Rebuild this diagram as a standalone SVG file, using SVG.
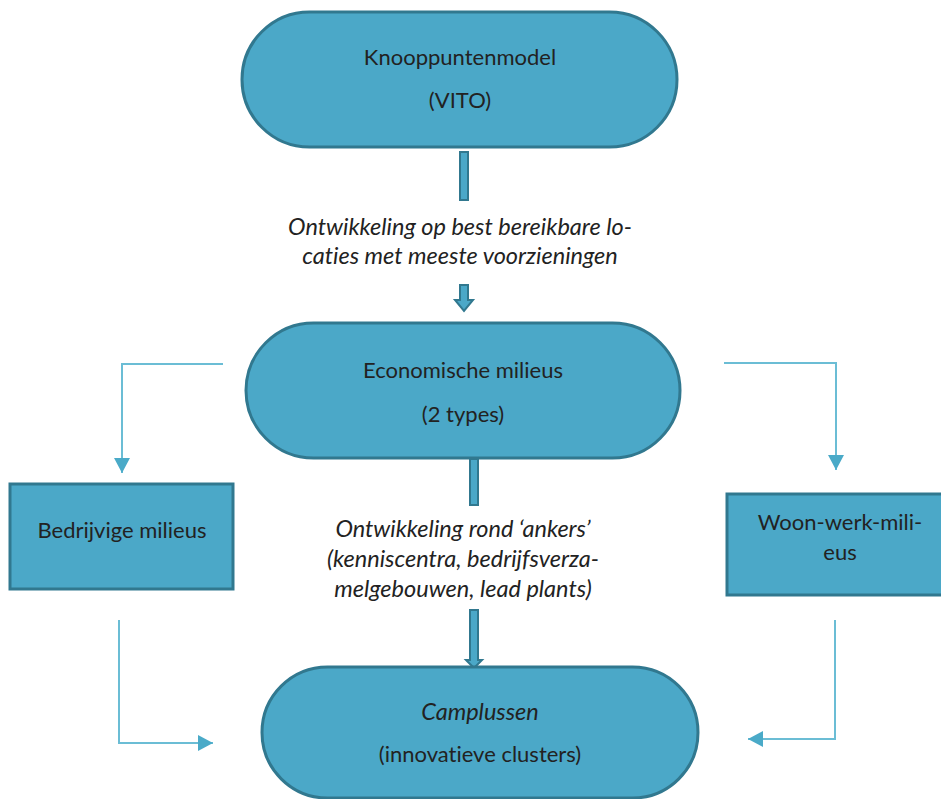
<svg xmlns="http://www.w3.org/2000/svg" width="941" height="799" viewBox="0 0 941 799">
  <defs>
    <style>
      .node { fill: #4ba8c8; stroke: #31788f; stroke-width: 3; }
      .label { font-family: Lato, "Liberation Sans", sans-serif; font-size: 22px; fill: #222222; text-anchor: middle; font-variant-ligatures: none; font-feature-settings: "liga" 0, "dlig" 0; }
      .it { font-style: italic; font-size: 23.5px; }
      .thin { fill: none; stroke: #6bbdd5; stroke-width: 2; }
      .block { fill: #4ba8c8; stroke: #31788f; stroke-width: 2; stroke-linejoin: miter; }
    </style>
    <marker id="tri" markerWidth="15" markerHeight="16" refX="15" refY="8" orient="auto" markerUnits="userSpaceOnUse">
      <path d="M0,0 L15,8 L0,16 Z" fill="#4aaac8"/>
    </marker>
  </defs>

  <!-- connectors -->
  <g id="connectors">
    <path class="block" d="M460,152 H468 V200 H460 Z"/>
    <path class="block" d="M460,285 H468 V300 H473 L464,311 L455,300 H460 Z"/>
    <path class="block" d="M470,459 H478 V505 H470 Z"/>
    <path class="block" d="M470,610 H478 V660 H482 L474,668 L466,660 H470 Z"/>
    <path class="thin" d="M223,364 H122 V473" marker-end="url(#tri)"/>
    <path class="thin" d="M724,363 H836 V470" marker-end="url(#tri)"/>
    <path class="thin" d="M119,620 V743 H213" marker-end="url(#tri)"/>
    <path class="thin" d="M835,620 V739 H748" marker-end="url(#tri)"/>
  </g>

  <!-- connector labels -->
  <g id="label-top">
    <text class="label it" x="460" y="235">Ontwikkeling op best bereikbare lo-</text>
    <text class="label it" x="460" y="264">caties met meeste voorzieningen</text>
  </g>
  <g id="label-mid">
    <text class="label it" x="463" y="537">Ontwikkeling rond ‘ankers’</text>
    <text class="label it" x="463" y="567">(kenniscentra, bedrijfsverza-</text>
    <text class="label it" x="463" y="597">melgebouwen, lead plants)</text>
  </g>

  <g id="knooppuntenmodel">
    <rect class="node" x="242" y="12" width="435" height="135" rx="67.5"/>
    <text class="label" x="460" y="65">Knooppuntenmodel</text>
    <text class="label" x="460" y="108">(VITO)</text>
  </g>

  <g id="economische-milieus">
    <rect class="node" x="246" y="323" width="434" height="135" rx="67.5"/>
    <text class="label" x="463" y="378">Economische milieus</text>
    <text class="label" x="463" y="422">(2 types)</text>
  </g>

  <g id="bedrijvige-milieus">
    <rect class="node" x="10" y="484" width="223" height="105"/>
    <text class="label" x="122" y="538">Bedrijvige milieus</text>
  </g>

  <g id="woon-werk-milieus">
    <rect class="node" x="727" y="494" width="228" height="101"/>
    <text class="label" x="840" y="530">Woon-werk-mili-</text>
    <text class="label" x="840" y="560">eus</text>
  </g>

  <g id="camplussen">
    <rect class="node" x="262" y="667" width="436" height="131" rx="65.5"/>
    <text class="label it" x="480" y="720">Camplussen</text>
    <text class="label" x="480" y="762">(innovatieve clusters)</text>
  </g>
</svg>
